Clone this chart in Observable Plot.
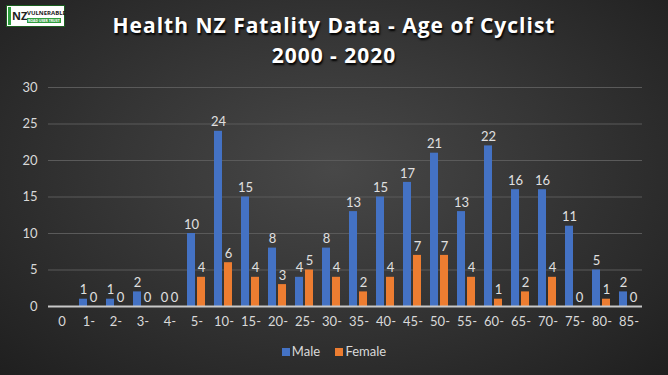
<!DOCTYPE html>
<html>
<head>
<meta charset="utf-8">
<script src="https://cdn.jsdelivr.net/npm/d3@7"></script>
<script src="https://cdn.jsdelivr.net/npm/@observablehq/plot@0.6"></script>
<style>
  html, body { margin: 0; padding: 0; }
  #wrap {
    position: relative; width: 668px; height: 375px; overflow: hidden;
    background: radial-gradient(ellipse at 50% 45%, #484848 0%, #363636 45%, #1f1f1f 100%);
    font-family: "Open Sans", Lato, sans-serif;
  }
  #title {
    position: absolute; left: 0; top: 10px; width: 668px; text-align: center;
    color: #ffffff; font-weight: bold; font-size: 21px; line-height: 30px;
    letter-spacing: 1px;
    text-shadow: 1px 2px 2px #000;
  }
  #logo {
    position: absolute; left: 6px; top: 5px; width: 59px; height: 22px;
    background: #fff; border: 1px solid #1b5e20; box-sizing: border-box;
    font-size: 6px; line-height: 8px; color: #1a1a1a; font-weight: bold;
  }
  #logo .nz { position: absolute; left: 5px; top: 3px; font-size: 11px; line-height: 13px; color:#222; }
  #logo .fern { position: absolute; left: 1px; top: 1px; width: 3px; height: 18px; background: #2e9e3e; }
  #logo .vu { position: absolute; left: 20px; top: 3px; font-size: 6px; }
  #logo .ru { position: absolute; left: 20px; top: 12px; font-size: 3.5px; background:#2e9e3e; color:#fff; padding:0 1px; line-height:5px;}
  #chart { position: absolute; left: 0; top: 70px; }
  #legend {
    position: absolute; left: 0; top: 343px; width: 668px; text-align: center;
    color: #d9d9d9; font-size: 13px; font-family: Lato, "Open Sans", sans-serif;
  }
  #legend span.sw { display: inline-block; width: 8px; height: 8px; margin-right: 2px; vertical-align: 0px; }
  #legend span.item { margin: 0 6px; }
</style>
</head>
<body>
<div id="wrap">
  <div id="logo"><div class="fern"></div><div class="nz">NZ</div><div class="vu">VULNERABLE</div><div class="ru">ROAD USER TRUST</div></div>
  <div id="title">Health NZ Fatality Data - Age of Cyclist<br>2000 - 2020</div>
  <div id="chart"></div>
  <div id="legend">
    <span class="item"><span class="sw" style="background:#4472C4"></span>Male</span>
    <span class="item"><span class="sw" style="background:#ED7D31"></span>Female</span>
  </div>
</div>
<script>
const categories = ["0","1-","2-","3-","4-","5-","10-","15-","20-","25-","30-","35-","40-","45-","50-","55-","60-","65-","70-","75-","80-","85-"];
// "0" category has no values shown in the chart (null)
const male   = [null,1,1,2,0,10,24,15,8,4,8,13,15,17,21,13,22,16,16,11,5,2];
const female = [null,0,0,0,0,4,6,4,3,5,4,2,4,7,7,4,1,2,4,0,1,0];
const series = ["Male","Female"];
const colors = ["#4472C4","#ED7D31"];
const yTicks = [0,5,10,15,20,25,30];

const data = [];
categories.forEach((c, i) => {
  data.push({age: c, sex: "Male", value: male[i]});
  data.push({age: c, sex: "Female", value: female[i]});
});
const labelled = data.filter(d => d.value != null);

const chart = Plot.plot({
  width: 668,
  height: 270,
  marginLeft: 48,
  marginRight: 26,
  marginTop: 17,
  marginBottom: 34,
  style: {background: "transparent", color: "#d9d9d9", fontFamily: "Lato, 'Open Sans', sans-serif", fontSize: "13px", overflow: "visible"},
  fx: {domain: categories, padding: 0, label: null},
  x: {domain: series, paddingInner: 0.18, paddingOuter: 0.32, axis: null},
  y: {domain: [0, 30], label: null},
  color: {domain: series, range: colors},
  marks: [
    Plot.ruleY(yTicks.filter(d => d > 0), {stroke: "#5a5a5a", strokeWidth: 1}),
    Plot.axisY({ticks: yTicks, tickSize: 0, tickPadding: 11, label: null, fill: "#d9d9d9", fontSize: 13}),
    Plot.axisFx({anchor: "bottom", tickSize: 0, tickPadding: 10, label: null, fill: "#d9d9d9", fontSize: 13}),
    Plot.barY(data, {fx: "age", x: "sex", y: "value", fill: "sex"}),
    Plot.ruleY([0], {stroke: "#c8c8c8", strokeWidth: 2}),
    Plot.text(labelled, {fx: "age", x: "sex", y: "value", text: d => String(d.value), dy: -9, fill: "#e0e0e0", fontSize: 13})
  ]
});
document.getElementById("chart").appendChild(chart);
</script>
</body>
</html>
